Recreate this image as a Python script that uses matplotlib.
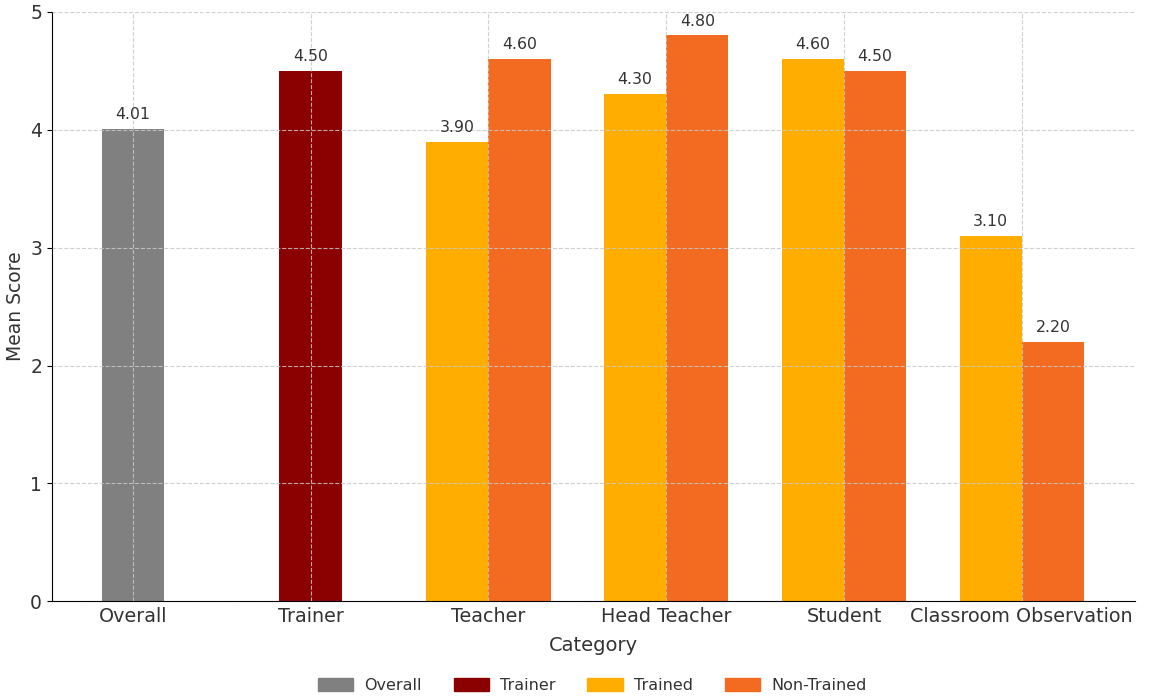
import numpy as np
import matplotlib
matplotlib.use("Agg")
from matplotlib import pyplot as plt
from matplotlib.patches import Patch

# data
categories = ["Overall", "Trainer", "Teacher", "Head Teacher", "Student", "Classroom Observation"]
overall_score = 4.01
trainer_score = 4.50
trained_scores = [3.90, 4.30, 4.60, 3.10]
non_trained_scores = [4.60, 4.80, 4.50, 2.20]

c_overall = "#808080"
c_trainer = "#8B0000"
c_trained = "#FFAE00"
c_non = "#F26B21"
txt = "#333333"

plt.rcParams['font.family'] = ['DejaVu Sans']

fig = plt.figure(figsize=(11.52, 7.0), dpi=100)
ax = fig.add_axes([0.045, 0.141, 0.940, 0.842])

w = 0.35
x = np.arange(len(categories))
group_x = x[2:]

b1 = ax.bar(x[0], overall_score, w, color=c_overall)
b2 = ax.bar(x[1], trainer_score, w, color=c_trainer)
b3 = ax.bar(group_x - w / 2, trained_scores, w, color=c_trained)
b4 = ax.bar(group_x + w / 2, non_trained_scores, w, color=c_non)

for bars in (b1, b2, b3, b4):
    for r in bars:
        h = r.get_height()
        ax.annotate(f"{h:.2f}", (r.get_x() + r.get_width() / 2, h),
                    xytext=(0, 5), textcoords="offset points",
                    ha="center", va="bottom", fontsize=11.3, color=txt)

ax.set_xlim(-0.455, 5.635)
ax.set_ylim(0, 5)
ax.set_xticks(x)
ax.set_xticklabels(categories, fontsize=13.8, color=txt)
ax.set_yticks(range(6))
ax.tick_params(axis="y", labelsize=13.5, labelcolor=txt)
ax.tick_params(axis="x", length=0, pad=4)
ax.set_xlabel("Category", fontsize=14, color=txt, labelpad=7)
ax.set_ylabel("Mean Score", fontsize=13.5, color=txt)
ax.yaxis.set_label_coords(-0.025, 0.5)

ax.grid(True, linestyle="--", color="#c8c8c8", alpha=0.85, linewidth=0.8)
ax.set_axisbelow(False)
for s in ("top", "right"):
    ax.spines[s].set_visible(False)

handles = [Patch(color=c_overall, label="Overall"),
           Patch(color=c_trainer, label="Trainer"),
           Patch(color=c_trained, label="Trained"),
           Patch(color=c_non, label="Non-Trained")]
fig.legend(handles=handles, loc="center", bbox_to_anchor=(0.514, 0.021), ncol=4,
           frameon=False, fontsize=11.5, handlelength=2.2, handleheight=0.9,
           handletextpad=0.7, columnspacing=2.0, labelcolor=txt)

fig.savefig("out.png", dpi=100)
